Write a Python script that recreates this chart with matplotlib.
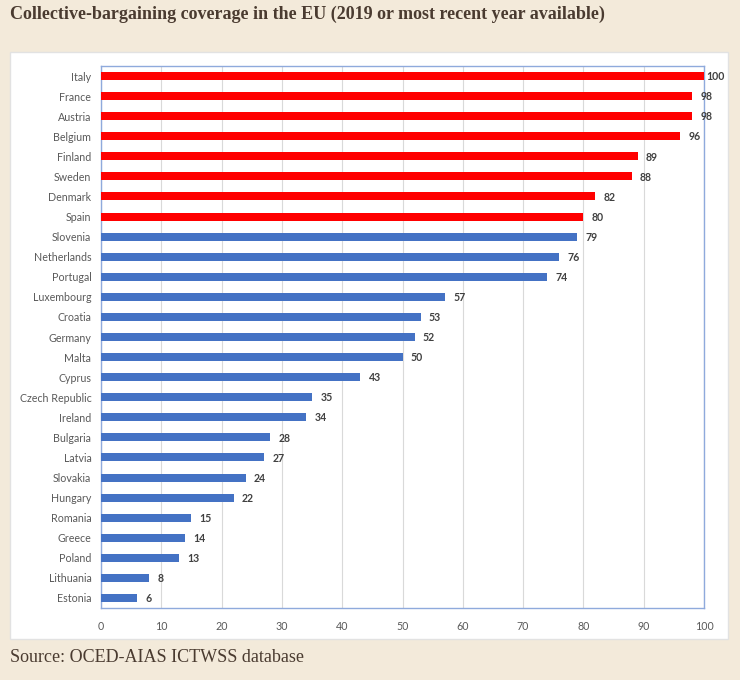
import matplotlib.pyplot as plt
from matplotlib.patches import Rectangle

countries = ["Italy", "France", "Austria", "Belgium", "Finland", "Sweden", "Denmark",
             "Spain", "Slovenia", "Netherlands", "Portugal", "Luxembourg", "Croatia",
             "Germany", "Malta", "Cyprus", "Czech Republic", "Ireland", "Bulgaria",
             "Latvia", "Slovakia", "Hungary", "Romania", "Greece", "Poland",
             "Lithuania", "Estonia"]
coverage = [100, 98, 98, 96, 89, 88, 82, 80, 79, 76, 74, 57, 53, 52, 50, 43, 35, 34,
            28, 27, 24, 22, 15, 14, 13, 8, 6]
n_red = 8  # top countries highlighted in red

BG = "#f3eada"
RED = "#ff0000"
BLUE = "#4472c4"

W, H = 740, 680
fig = plt.figure(figsize=(W / 100, H / 100), dpi=100)
fig.patch.set_facecolor(BG)

# white panel behind the chart
fig.patches.append(Rectangle((10 / W, 1 - 639 / H), 718 / W, 587 / H,
                             transform=fig.transFigure, facecolor="white",
                             edgecolor="#e2e2e2", linewidth=1, zorder=0))

ax = fig.add_axes([101 / W, 1 - 608 / H, 603 / W, 542 / H], zorder=2)
ax.set_facecolor("white")

colors = [RED if i < n_red else BLUE for i in range(len(countries))]
ypos = list(range(len(countries)))
ax.barh(ypos, coverage, height=0.4, color=colors, zorder=3)

for y, v in zip(ypos, coverage):
    ax.annotate(str(v), (v, y), xytext=(2 if v == 100 else 6, -0.5),
                textcoords="offset points", va="center", ha="left",
                fontsize=7.6, fontweight="bold", color="#404040",
                family="Lato", annotation_clip=False)

ax.set_ylim(len(countries) - 0.5, -0.5)
ax.set_xlim(0, 100)
ax.set_yticks(ypos)
ax.set_yticklabels(countries, family="Lato", fontsize=7.7, color="#595959")
ax.set_xticks(range(0, 101, 10))
ax.set_xticklabels([str(t) for t in range(0, 101, 10)], family="Lato",
                   fontsize=7.7, color="#595959")
ax.tick_params(length=0)
ax.tick_params(axis="y", pad=7)
ax.tick_params(axis="x", pad=9)

ax.grid(axis="x", color="#d9d9d9", linewidth=0.8, zorder=0)
for s in ax.spines.values():
    s.set_color("#8faadc")
    s.set_linewidth(1)

fig.text(10 / W, 1 - 14 / H, "Collective-bargaining coverage in the EU (2019 or most recent year available)",
         family="Liberation Serif", fontweight="bold", fontsize=13,
         color="#4a3b30", va="center", ha="left")
fig.text(10 / W, 1 - 657 / H, "Source: OCED-AIAS ICTWSS database",
         family="Liberation Serif", fontsize=13, color="#4a3b30",
         va="center", ha="left")

fig.savefig("out.png", dpi=100, facecolor=BG)
